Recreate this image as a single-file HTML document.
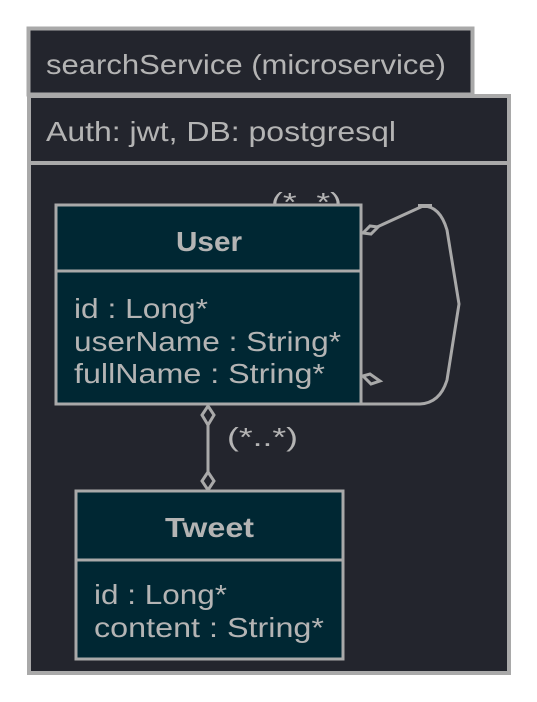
<!DOCTYPE html>
<html><head><style>
html,body{margin:0;padding:0;background:#fff;width:537px;height:702px;overflow:hidden}
svg{display:block}
text{font-family:"Liberation Sans",sans-serif;fill:#b4b4b4}
</style></head><body>
<svg width="537" height="702" viewBox="0 0 537 702">
<rect x="28.5" y="28.5" width="444" height="66" fill="#23252d" stroke="#a9a9a9" stroke-width="4"/>
<rect x="29" y="96" width="480" height="577" fill="#23252d" stroke="#a9a9a9" stroke-width="4"/>
<line x1="29" y1="163" x2="509" y2="163" stroke="#a9a9a9" stroke-width="4"/>
<text x="46" y="74" font-size="28" textLength="400" lengthAdjust="spacingAndGlyphs">searchService (microservice)</text>
<text x="46" y="141" font-size="28" textLength="350" lengthAdjust="spacingAndGlyphs">Auth: jwt, DB: postgresql</text>

<text x="271" y="211" font-size="26" textLength="71" lengthAdjust="spacingAndGlyphs">(*..*)</text>
<rect x="56" y="205" width="305" height="199" fill="#002733" stroke="#a9a9a9" stroke-width="3"/>
<line x1="56" y1="271" x2="361" y2="271" stroke="#a9a9a9" stroke-width="3"/>
<text x="176" y="251" font-size="28" font-weight="bold" textLength="66" lengthAdjust="spacingAndGlyphs">User</text>
<text x="74" y="318" font-size="28" textLength="134" lengthAdjust="spacingAndGlyphs">id : Long*</text>
<text x="74" y="351" font-size="28" textLength="267" lengthAdjust="spacingAndGlyphs">userName : String*</text>
<text x="74" y="383" font-size="28" textLength="251" lengthAdjust="spacingAndGlyphs">fullName : String*</text>

<path d="M377 227 L423 206 Q440 206 447 230 L459 304 L447 380 Q440 403 420 404 L362 404" fill="none" stroke="#a9a9a9" stroke-width="3"/>
<polygon points="363,233 370,226 378,227 371,234" fill="#23252d" stroke="#a9a9a9" stroke-width="3"/>
<polygon points="363,376 370,374 380,381 371,384" fill="#23252d" stroke="#a9a9a9" stroke-width="3"/>
<rect x="418" y="204" width="14" height="4" fill="#a9a9a9"/>

<line x1="208" y1="420" x2="208" y2="474" stroke="#a9a9a9" stroke-width="3"/>
<polygon points="208,406 214,415 208,425 202,415" fill="#23252d" stroke="#a9a9a9" stroke-width="3"/>
<polygon points="208,472 214,481 208,490 202,481" fill="#23252d" stroke="#a9a9a9" stroke-width="3"/>
<text x="227" y="446" font-size="26" textLength="71" lengthAdjust="spacingAndGlyphs">(*..*)</text>

<rect x="76" y="491" width="267" height="168" fill="#002733" stroke="#a9a9a9" stroke-width="3"/>
<line x1="76" y1="560" x2="343" y2="560" stroke="#a9a9a9" stroke-width="3"/>
<text x="165" y="537" font-size="28" font-weight="bold" textLength="89" lengthAdjust="spacingAndGlyphs">Tweet</text>
<text x="94" y="604" font-size="28" textLength="133" lengthAdjust="spacingAndGlyphs">id : Long*</text>
<text x="94" y="637" font-size="28" textLength="230" lengthAdjust="spacingAndGlyphs">content : String*</text>
</svg>
</body></html>
